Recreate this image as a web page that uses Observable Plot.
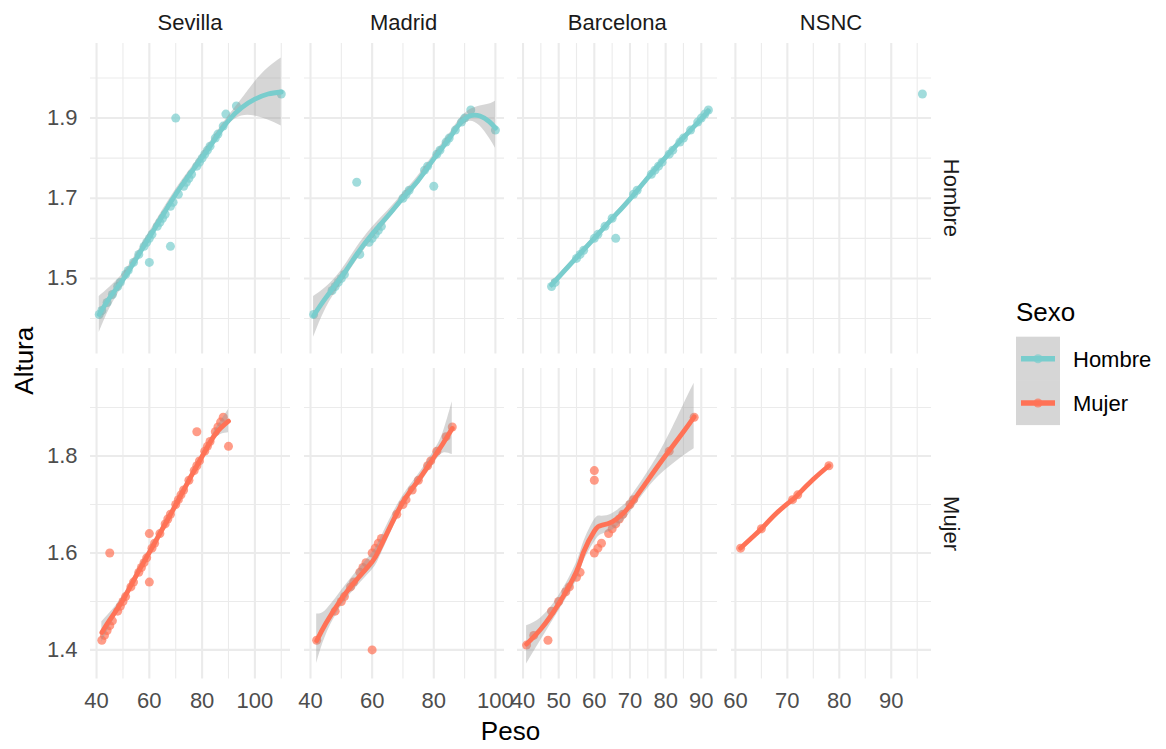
<!DOCTYPE html>
<html><head><meta charset="utf-8">
<script src="https://cdn.jsdelivr.net/npm/d3@7"></script>
<script src="https://cdn.jsdelivr.net/npm/@observablehq/plot@0.6"></script>
<style>
body{margin:0;background:#fff;}
#chart{position:relative;width:1166px;height:749px;overflow:hidden;font-family:"Liberation Sans",Arial,Helvetica,sans-serif;}
#chart > svg, #chart > .panel{position:absolute;}
</style></head><body><div id="chart"></div>
<script>
// ---------- data ----------
const cities = ["Sevilla", "Madrid", "Barcelona", "NSNC"];
const sexes = ["Hombre", "Mujer"];
const sexColors = ["#79CDCD", "#FF7256"];
const xLabel = "Peso";
const yLabel = "Altura";
const legendTitle = "Sexo";

const xTicksByCity = [[40,60,80,100],[40,60,80,100],[40,50,60,70,80,90],[60,70,80,90]];
const xMinorByCity = [[50,70,90,110],[50,70,90],[45,55,65,75,85],[65,75,85,95]];
const xDomainByCity = [[37.7,113.5],[38.05,102.95],[38.45,94.55],[59.25,97.75]];
const yTicksBySex = [[1.5,1.7,1.9],[1.4,1.6,1.8]];
const yMinorBySex = [[1.4,1.6,1.8,2.0],[1.5,1.7,1.9]];
const yDomainBySex = [[1.3115,2.086],[1.340,1.9806]];

// points [Peso, Altura]
const sevillaHombrePts = [[41,1.41],[42,1.42],[44,1.44],[46,1.46],[48,1.48],[49,1.49],[51,1.51],[52,1.52],[54,1.54],[56,1.56],[58,1.58],[59,1.59],[60,1.54],[60,1.60],[61,1.61],[63,1.63],[64,1.64],[65,1.65],[66,1.66],[68,1.58],[68,1.68],[69,1.69],[70,1.90],[71,1.71],[73,1.73],[74,1.74],[75,1.75],[76,1.76],[78,1.78],[79,1.79],[80,1.80],[81,1.81],[82,1.82],[83,1.83],[85,1.85],[86,1.86],[88,1.88],[89,1.91],[93,1.93],[110,1.96]];
const madridHombrePts = [[41,1.41],[47,1.47],[48,1.48],[49,1.49],[50,1.50],[51,1.51],[55,1.74],[56,1.56],[59,1.59],[60,1.60],[61,1.61],[62,1.62],[63,1.63],[70,1.70],[71,1.71],[72,1.72],[77,1.77],[78,1.78],[80,1.73],[81,1.81],[82,1.82],[84,1.84],[85,1.85],[87,1.87],[89,1.89],[90,1.90],[92,1.92],[100,1.87]];
const barcelonaHombrePts = [[48,1.48],[49,1.49],[55,1.55],[56,1.56],[57,1.57],[60,1.60],[61,1.61],[63,1.63],[65,1.65],[66,1.60],[71,1.71],[72,1.72],[76,1.76],[77,1.77],[78,1.78],[79,1.79],[81,1.81],[82,1.82],[84,1.84],[85,1.85],[87,1.87],[89,1.89],[90,1.90],[91,1.91],[92,1.92]];
const nsncHombrePts = [[96,1.96]];
const sevillaMujerPts = [[42,1.42],[43,1.43],[44,1.44],[45,1.45],[45,1.60],[46,1.46],[48,1.48],[49,1.49],[50,1.50],[51,1.51],[53,1.53],[54,1.54],[56,1.56],[57,1.57],[58,1.58],[59,1.59],[60,1.54],[60,1.64],[61,1.61],[62,1.62],[64,1.64],[66,1.66],[67,1.67],[68,1.68],[70,1.70],[71,1.71],[72,1.72],[73,1.73],[75,1.75],[77,1.77],[78,1.78],[78,1.85],[79,1.79],[81,1.81],[82,1.82],[83,1.83],[85,1.85],[86,1.86],[87,1.87],[88,1.88],[90,1.82]];
const madridMujerPts = [[42,1.42],[48,1.48],[50,1.50],[51,1.51],[53,1.53],[54,1.54],[56,1.56],[57,1.57],[58,1.58],[60,1.40],[60,1.60],[61,1.61],[62,1.62],[63,1.63],[68,1.68],[70,1.70],[71,1.71],[73,1.73],[75,1.75],[78,1.78],[79,1.79],[81,1.81],[84,1.84],[86,1.86]];
const barcelonaMujerPts = [[41,1.41],[43,1.43],[47,1.42],[48,1.48],[50,1.50],[52,1.52],[53,1.53],[55,1.55],[56,1.56],[60,1.77],[60,1.75],[60,1.60],[61,1.61],[62,1.62],[64,1.64],[65,1.65],[66,1.66],[67,1.67],[68,1.68],[70,1.70],[71,1.71],[81,1.81],[88,1.88]];
const nsncMujerPts = [[61,1.61],[65,1.65],[71,1.71],[72,1.72],[78,1.78]];

// smooth fits [Peso, fit, lower, upper]
const sevillaHombreFit = [[41,1.410,1.365,1.455],[45,1.452,1.425,1.478],[50,1.497,1.482,1.512],[55,1.549,1.537,1.561],[60,1.603,1.591,1.615],[65,1.657,1.644,1.670],[70,1.710,1.698,1.722],[75,1.757,1.746,1.768],[80,1.802,1.792,1.812],[85,1.849,1.839,1.859],[90,1.894,1.883,1.905],[95,1.926,1.905,1.947],[100,1.947,1.905,1.990],[105,1.960,1.895,2.025],[110,1.965,1.880,2.050]];
const madridHombreFit = [[41,1.407,1.353,1.455],[45,1.452,1.425,1.478],[50,1.503,1.488,1.520],[55,1.560,1.545,1.577],[60,1.611,1.597,1.627],[65,1.655,1.643,1.668],[70,1.701,1.690,1.712],[75,1.745,1.733,1.757],[80,1.798,1.787,1.809],[85,1.849,1.838,1.860],[88,1.882,1.871,1.893],[90,1.898,1.886,1.910],[92,1.906,1.892,1.922],[95,1.905,1.880,1.930],[98,1.891,1.850,1.935],[100,1.875,1.825,1.942]];
const barcelonaHombreFit = [[48,1.484,1.474,1.494],[50,1.503,1.496,1.510],[55,1.552,1.546,1.558],[60,1.600,1.594,1.606],[65,1.649,1.643,1.655],[70,1.698,1.692,1.704],[75,1.751,1.745,1.757],[80,1.802,1.796,1.808],[85,1.851,1.845,1.857],[90,1.898,1.892,1.904],[92,1.918,1.910,1.926]];
const nsncHombreFit = [];
const sevillaMujerFit = [[42,1.436,1.416,1.458],[45,1.462,1.448,1.476],[50,1.503,1.494,1.512],[55,1.553,1.545,1.561],[60,1.601,1.593,1.609],[65,1.650,1.642,1.658],[70,1.699,1.691,1.707],[75,1.750,1.742,1.758],[80,1.799,1.791,1.807],[85,1.845,1.836,1.854],[90,1.872,1.848,1.896]];
const madridMujerFit = [[42,1.419,1.372,1.474],[45,1.455,1.430,1.482],[50,1.505,1.490,1.522],[55,1.545,1.530,1.562],[60,1.582,1.565,1.600],[62,1.603,1.585,1.620],[65,1.643,1.627,1.660],[70,1.705,1.692,1.718],[75,1.750,1.738,1.762],[80,1.797,1.784,1.810],[83,1.826,1.806,1.848],[86,1.857,1.803,1.912]];
const barcelonaMujerFit = [[41,1.412,1.371,1.450],[45,1.443,1.420,1.466],[50,1.495,1.480,1.511],[55,1.562,1.543,1.580],[57,1.602,1.582,1.622],[60,1.645,1.622,1.668],[62,1.657,1.638,1.676],[65,1.664,1.647,1.681],[68,1.681,1.665,1.697],[70,1.698,1.683,1.713],[75,1.750,1.733,1.767],[80,1.801,1.771,1.830],[85,1.850,1.800,1.905],[88,1.881,1.815,1.950]];
const nsncMujerFit = [[61,1.610,1.610,1.610],[63,1.630,1.630,1.630],[65,1.650,1.650,1.650],[68,1.683,1.683,1.683],[71,1.710,1.710,1.710],[72,1.720,1.720,1.720],[75,1.752,1.752,1.752],[78,1.780,1.780,1.780]];

const pointsGrid = [
  [sevillaHombrePts, madridHombrePts, barcelonaHombrePts, nsncHombrePts],
  [sevillaMujerPts, madridMujerPts, barcelonaMujerPts, nsncMujerPts]
];
const fitsGrid = [
  [sevillaHombreFit, madridHombreFit, barcelonaHombreFit, nsncHombreFit],
  [sevillaMujerFit, madridMujerFit, barcelonaMujerFit, nsncMujerFit]
];

// ---------- layout ----------
const colX = [90, 303.5, 517.3, 731];
const rowY = [42.7, 368.3];
const PW = 200, PH = 310.5;
const FONT = '"Liberation Sans", Arial, Helvetica, sans-serif';
const GRID = "#EBEBEB";
const SMALL = 22, BIG = 26;

const chart = document.getElementById("chart");

// overlay text (strips, titles, legend)
const svg = d3.create("svg").attr("width", 1166).attr("height", 749)
  .style("left", "0px").style("top", "0px").attr("font-family", FONT);
cities.forEach((c, i) => {
  svg.append("text").attr("x", colX[i] + PW / 2).attr("y", 29.5)
    .attr("text-anchor", "middle").attr("font-size", SMALL).attr("fill", "#1A1A1A").text(c);
});
sexes.forEach((s, j) => {
  const cy = rowY[j] + PH / 2;
  svg.append("text").attr("transform", `translate(943.5,${cy}) rotate(90)`)
    .attr("text-anchor", "middle").attr("font-size", SMALL).attr("fill", "#1A1A1A").text(s);
});
svg.append("text").attr("x", (colX[0] + colX[3] + PW) / 2).attr("y", 740)
  .attr("text-anchor", "middle").attr("font-size", BIG).attr("fill", "#000").text(xLabel);
svg.append("text").attr("transform", `translate(33,${(rowY[0] + rowY[1] + PH) / 2}) rotate(-90)`)
  .attr("text-anchor", "middle").attr("font-size", BIG).attr("fill", "#000").text(yLabel);
// legend
svg.append("text").attr("x", 1016).attr("y", 321).attr("font-size", BIG).attr("fill", "#000").text(legendTitle);
sexes.forEach((s, j) => {
  const ky = 336.7 + j * 44.2;
  svg.append("rect").attr("x", 1016).attr("y", ky).attr("width", 44).attr("height", 44.2)
    .attr("fill", "#999999").attr("fill-opacity", 0.4);
  svg.append("circle").attr("cx", 1038).attr("cy", ky + 22.1).attr("r", 4.5)
    .attr("fill", sexColors[j]).attr("fill-opacity", 0.7);
  svg.append("line").attr("x1", 1021).attr("x2", 1055).attr("y1", ky + 22.1).attr("y2", ky + 22.1)
    .attr("stroke", sexColors[j]).attr("stroke-width", 5.5);
  svg.append("text").attr("x", 1073).attr("y", ky + 22.1 + 7.8).attr("font-size", SMALL).attr("fill", "#000").text(s);
});
chart.appendChild(svg.node());

// panels
for (let j = 0; j < sexes.length; j++) {
  for (let i = 0; i < cities.length; i++) {
    const ml = i === 0 ? 70 : 0;
    const mb = j === 1 ? 40 : 0;
    const pts = pointsGrid[j][i];
    const fit = fitsGrid[j][i];
    const color = sexColors[j];
    const marks = [
      Plot.ruleX(xMinorByCity[i], {stroke: GRID, strokeWidth: 1.1}),
      Plot.ruleY(yMinorBySex[j], {stroke: GRID, strokeWidth: 1.1}),
      Plot.ruleX(xTicksByCity[i], {stroke: GRID, strokeWidth: 2.1}),
      Plot.ruleY(yTicksBySex[j], {stroke: GRID, strokeWidth: 2.1}),
      Plot.dot(pts, {x: d => d[0], y: d => d[1], r: 4.5, fill: color, fillOpacity: 0.7})
    ];
    if (fit.length) {
      marks.push(Plot.areaY(fit, {x: d => d[0], y1: d => d[2], y2: d => d[3], fill: "#999999", fillOpacity: 0.4, curve: "natural"}));
      marks.push(Plot.line(fit, {x: d => d[0], y: d => d[1], stroke: color, strokeWidth: 4.8, curve: "natural"}));
    }
    const p = Plot.plot({
      width: PW + ml,
      height: PH + mb,
      marginLeft: ml, marginRight: 0, marginTop: 0, marginBottom: mb,
      style: {background: "transparent", overflow: "visible", fontFamily: FONT, fontSize: SMALL + "px", color: "#4D4D4D"},
      x: {domain: xDomainByCity[i], axis: j === 1 ? "bottom" : null, ticks: xTicksByCity[i], tickSize: 0, tickPadding: 13, tickFormat: d => String(d), label: null},
      y: {domain: yDomainBySex[j], axis: i === 0 ? "left" : null, ticks: yTicksBySex[j], tickSize: 0, tickPadding: 13, tickFormat: d3.format(".1f"), label: null},
      marks
    });
    p.classList.add("panel");
    p.style.position = "absolute";
    p.style.left = (colX[i] - ml) + "px";
    p.style.top = rowY[j] + "px";
    chart.appendChild(p);
  }
}
</script></body></html>
